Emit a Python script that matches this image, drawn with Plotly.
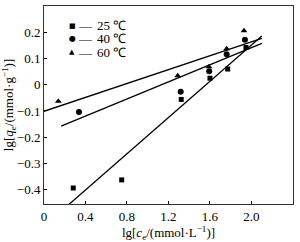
import numpy as np
import plotly.graph_objects as go

# data
x25 = [0.282, 0.749, 1.323, 1.600, 1.771, 1.947]
y25 = [-0.394, -0.363, -0.056, 0.025, 0.060, 0.142]
x40 = [0.337, 1.318, 1.593, 1.761, 1.937]
y40 = [-0.104, -0.027, 0.052, 0.116, 0.172]
x60 = [0.138, 1.289, 1.590, 1.761, 1.928]
y60 = [-0.063, 0.034, 0.069, 0.137, 0.206]
labels = ["25 ℃", "40 ℃", "60 ℃"]
legend_glyphs = ["■", "●", "▲"]
fit_ranges = [(0.2, 2.1), (0.165, 2.1), (0.0, 2.1)]
xticks = [0, 0.4, 0.8, 1.2, 1.6, 2.0, 2.4]
xticktext = ["0", "0.4", "0.8", "1.2", "1.6", "2.0", "2.4"]
yticks = [-0.4, -0.3, -0.2, -0.1, 0, 0.1, 0.2, 0.3]
yticktext = ["−0.4", "−0.3", "−0.2", "−0.1", "0", "0.1", "0.2", "0.3"]

series = [(x25, y25), (x40, y40), (x60, y60)]
symbols = ["square", "circle", "triangle-up"]
sizes = [5, 6, 6]

SERIF = "Liberation Serif, Times New Roman, Times, serif"
fig = go.Figure()
for (xs, ys), lab, sym, sz, rng in zip(series, labels, symbols, sizes, fit_ranges):
    k, b = np.polyfit(xs, ys, 1)
    lx = np.array(rng)
    fig.add_trace(go.Scatter(x=lx, y=k * lx + b, mode="lines",
                             line=dict(color="black", width=1.3),
                             showlegend=False, hoverinfo="skip"))
    fig.add_trace(go.Scatter(x=xs, y=ys, mode="markers", name=lab, showlegend=False,
                             marker=dict(symbol=sym, size=sz, color="black")))

# legend drawn as text
leg_y0 = 0.90
for i, (g, lab) in enumerate(zip(legend_glyphs, labels)):
    yy = leg_y0 - i * 0.0665
    fig.add_annotation(xref="paper", yref="paper", x=0.113, y=yy, xanchor="center", yanchor="middle",
                       text=g, showarrow=False, borderpad=0,
                       font=dict(family="DejaVu Sans", size=7 if i != 1 else 8, color="black"))
    fig.add_annotation(xref="paper", yref="paper", x=0.165, y=yy, xanchor="center", yanchor="middle",
                       text="—", showarrow=False, borderpad=0,
                       font=dict(family=SERIF, size=13, color="black"))
    fig.add_annotation(xref="paper", yref="paper", x=0.207, y=yy, xanchor="left", yanchor="middle",
                       text=lab, showarrow=False, borderpad=0,
                       font=dict(family=SERIF, size=13, color="black"))

font = dict(family=SERIF, size=13, color="black")
fig.update_layout(
    width=300, height=242,
    margin=dict(l=44, r=7, t=5, b=35),
    paper_bgcolor="white", plot_bgcolor="white",
    font=font,
    showlegend=False,
)
fig.update_xaxes(range=[0, 2.4005], tickvals=xticks, ticktext=xticktext,
                 tickfont=dict(family=SERIF, size=13, color="black"),
                 ticks="inside", ticklen=3, tickcolor="black",
                 showline=True, linecolor="#333", linewidth=1, mirror=True,
                 showgrid=False, zeroline=False,
                 title=dict(text="lg[<i>c</i><sub>e</sub>/(mmol·L<sup>−1</sup>)]", standoff=4,
                            font=dict(family=SERIF, size=13, color="black")))
fig.update_yaxes(range=[-0.455, 0.3005], tickvals=yticks, ticktext=yticktext,
                 tickfont=dict(family=SERIF, size=13, color="black"),
                 ticks="inside", ticklen=3, tickcolor="black",
                 showline=True, linecolor="#333", linewidth=1, mirror=True,
                 showgrid=False, zeroline=False,
                 title=dict(text="lg[<i>q</i><sub>e</sub>/(mmol·g<sup>−1</sup>)]", standoff=2,
                            font=dict(family=SERIF, size=13, color="black")))
fig.write_html("out.html")
